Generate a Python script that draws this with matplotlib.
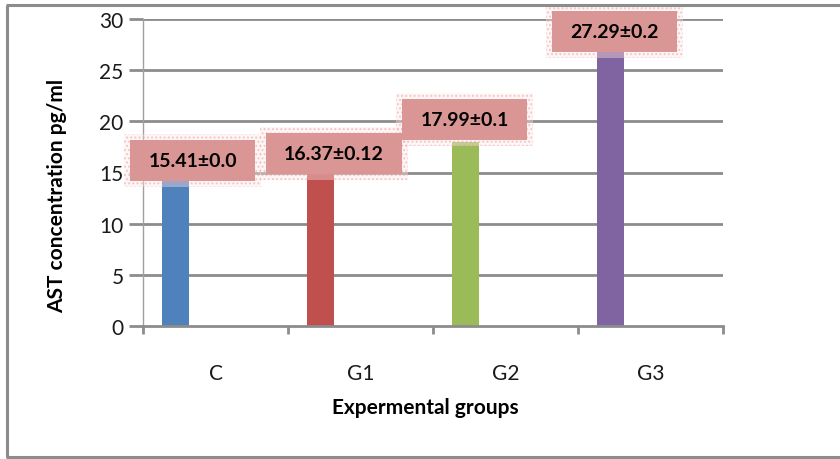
import matplotlib
matplotlib.use("Agg")
import matplotlib.pyplot as plt
from matplotlib.patches import Rectangle
import numpy as np

# Data
groups = ["C", "G1", "G2", "G3"]
means = [15.41, 16.37, 17.99, 27.29]
errs = ["0.0", "0.12", "0.1", "0.2"]
colors = ["#4F81BD", "#C0504D", "#9BBB59", "#8064A2"]
y_ticks = [0, 5, 10, 15, 20, 25, 30]

# Label placement (pixel offsets from top of each bar)
label_dx = [17, 13, -1, 4]
label_dy = [8, 5, 22, 15]

FONT = "Lato"
GRID = "#8C8C8C"
W, H = 840, 460

fig = plt.figure(figsize=(W / 100, H / 100), dpi=100)
fig.patch.set_facecolor("white")

# outer chart frame
frame_kw = dict(transform=fig.transFigure, color=GRID, lw=2.2, solid_capstyle="butt")
fig.add_artist(plt.Line2D([7 / W, 7 / W], [1 - 6 / H, 1 - 458 / H], **frame_kw))
fig.add_artist(plt.Line2D([6 / W, 1.0], [1 - 6 / H, 1 - 6 / H], **frame_kw))
fig.add_artist(plt.Line2D([6 / W, 1.0], [1 - 458 / H, 1 - 458 / H], **frame_kw))

x0, x1 = 143, 723
y0, y1 = 327, 20
ax = fig.add_axes([x0 / W, 1 - y0 / H, (x1 - x0) / W, (y0 - y1) / H])
ax.set_xlim(0, 4)
ax.set_ylim(0, 30)

# gridlines
for v in y_ticks[1:]:
    ax.axhline(v, color=GRID, lw=2.0, zorder=0)

# bars sit on the left part of each category slot
xs = np.arange(len(groups)) + 0.13
ax.bar(xs, means, width=0.19, align="edge", color=colors, zorder=2)

for s in ["top", "right"]:
    ax.spines[s].set_visible(False)
ax.spines["left"].set_color("#A0A0A0")
ax.spines["left"].set_linewidth(1.0)
ax.spines["bottom"].set_color(GRID)
ax.spines["bottom"].set_linewidth(2.0)

ax.set_yticks(y_ticks)
ax.set_yticklabels([str(v) for v in y_ticks], fontsize=15, family=FONT, color="#1A1A1A")
ax.tick_params(axis="y", direction="out", length=10, width=2.0, color=GRID, pad=4)

ax.set_xticks(np.arange(0, 5))
ax.set_xticklabels([])
ax.tick_params(axis="x", which="major", direction="out", length=6, width=2.0, color=GRID)
ax.set_xticks(np.arange(len(groups)) + 0.5, minor=True)
ax.set_xticklabels(groups, minor=True, fontsize=15, family=FONT, color="#1A1A1A")
ax.tick_params(axis="x", which="minor", length=0, pad=27)

fig.text(425 / W, 1 - 408 / H, "Expermental groups", ha="center", va="center",
         fontsize=15, fontweight="bold", family=FONT, color="#000000")
fig.text(57 / W, 1 - 196 / H, "AST concentration pg/ml", ha="center", va="center",
         rotation=90, fontsize=15, fontweight="bold", family=FONT, color="#000000")

# value labels in pink boxes
fig.canvas.draw()
renderer = fig.canvas.get_renderer()
for i, (m, e) in enumerate(zip(means, errs)):
    bx, by = ax.transData.transform((xs[i] + 0.095, m))
    cx, cy = bx + label_dx[i], by + label_dy[i]
    t = ax.text(cx, cy, f"{m:.2f}\u00b1{e}", transform=None, ha="center", va="center",
                fontsize=14, fontweight="bold", family=FONT, color="#000000", zorder=6)
    bb = t.get_window_extent(renderer)
    px, py = 18, 12
    left, bottom = bb.x0 - px, cy - (bb.height / 2 + py)
    wbox, hbox = bb.width + 2 * px, bb.height + 2 * py
    halo = Rectangle((left - 6, bottom - 6), wbox + 12, hbox + 12, transform=None,
                     facecolor="#FCEAEA", edgecolor="#EE8A8A", lw=0, hatch="....",
                     alpha=0.4, zorder=4)
    box = Rectangle((left, bottom), wbox, hbox, transform=None,
                    facecolor="#D99694", edgecolor="none", zorder=5)
    ax.add_artist(halo)
    ax.add_artist(box)
    halo.set_clip_on(False)
    box.set_clip_on(False)

fig.savefig("out.png", dpi=100, facecolor="white")
